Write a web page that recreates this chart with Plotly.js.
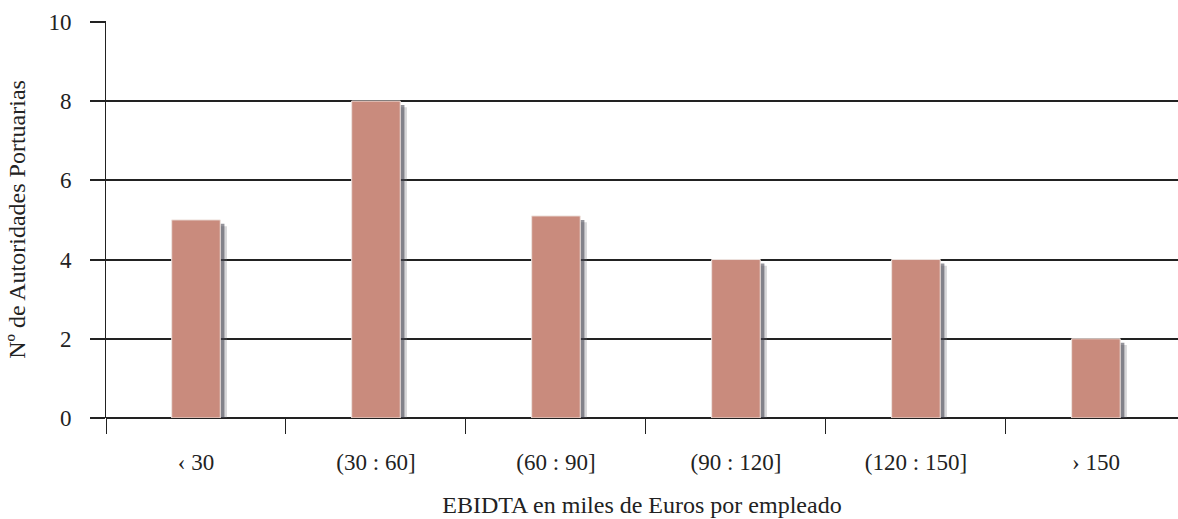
<!DOCTYPE html>
<html>
<head>
<meta charset="utf-8">
<script src="https://cdn.plot.ly/plotly-3.0.1.min.js"></script>
<style>html,body{margin:0;padding:0;background:#fff;overflow:hidden;}</style>
</head>
<body>
<div id="chart" style="width:1178px;height:519px;"></div>
<script>
const categories = ["\u2039 30", "(30 : 60]", "(60 : 90]", "(90 : 120]", "(120 : 150]", "\u203a 150"];
const values = [5, 8, 5.1, 4, 4, 2];
const yTicks = [0, 2, 4, 6, 8, 10];

const fontFam = '"Liberation Serif", "DejaVu Serif", serif';

const shadowOuter = {
  type: 'bar', x: categories, y: values, base: -0.16,
  width: 0.27, offset: -0.098,
  marker: {color: 'rgba(110,110,120,0.28)', line: {width: 0}},
  hoverinfo: 'skip', showlegend: false
};
const shadow = {
  type: 'bar', x: categories, y: values, base: -0.1,
  width: 0.27, offset: -0.112,
  marker: {color: 'rgba(60,60,72,0.55)', line: {width: 0}},
  hoverinfo: 'skip', showlegend: false
};
const bars = {
  type: 'bar', x: categories, y: values,
  width: 0.27, offset: -0.135,
  marker: {color: '#c98b7d', line: {color: '#eee3df', width: 1}},
  showlegend: false
};

const layout = {
  width: 1178, height: 519,
  margin: {l: 106, r: 0, t: 21, b: 101, pad: 0},
  barmode: 'overlay',
  paper_bgcolor: '#fff', plot_bgcolor: '#fff',
  font: {family: fontFam, color: '#222', size: 22},
  xaxis: {
    type: 'category',
    range: [-0.5, 5.456],
    tickson: 'boundaries',
    ticks: 'outside', ticklen: 15, tickwidth: 1, tickcolor: '#222',
    ticklabelstandoff: 28,
    showgrid: false, showline: false, zeroline: false,
    tickfont: {family: fontFam, size: 23, color: '#222'},
    title: {text: 'EBIDTA en miles de Euros por empleado', font: {family: fontFam, size: 24, color: '#222'}, standoff: 22},
    fixedrange: true
  },
  yaxis: {
    range: [0, 10.02],
    tickvals: yTicks,
    ticktext: yTicks.map(String),
    ticks: 'outside', ticklen: 15, tickwidth: 2, tickcolor: '#222',
    ticklabelstandoff: 14,
    showgrid: true, gridcolor: '#222', gridwidth: 2,
    zeroline: true, zerolinecolor: '#222', zerolinewidth: 2,
    showline: true, linecolor: '#222', linewidth: 1,
    tickfont: {family: fontFam, size: 23, color: '#222'},
    title: {text: 'N\u00ba de Autoridades Portuarias', font: {family: fontFam, size: 24, color: '#222'}, standoff: 16},
    fixedrange: true
  }
};

Plotly.newPlot('chart', [shadowOuter, shadow, bars], layout, {displayModeBar: false, staticPlot: true});
</script>
</body>
</html>
